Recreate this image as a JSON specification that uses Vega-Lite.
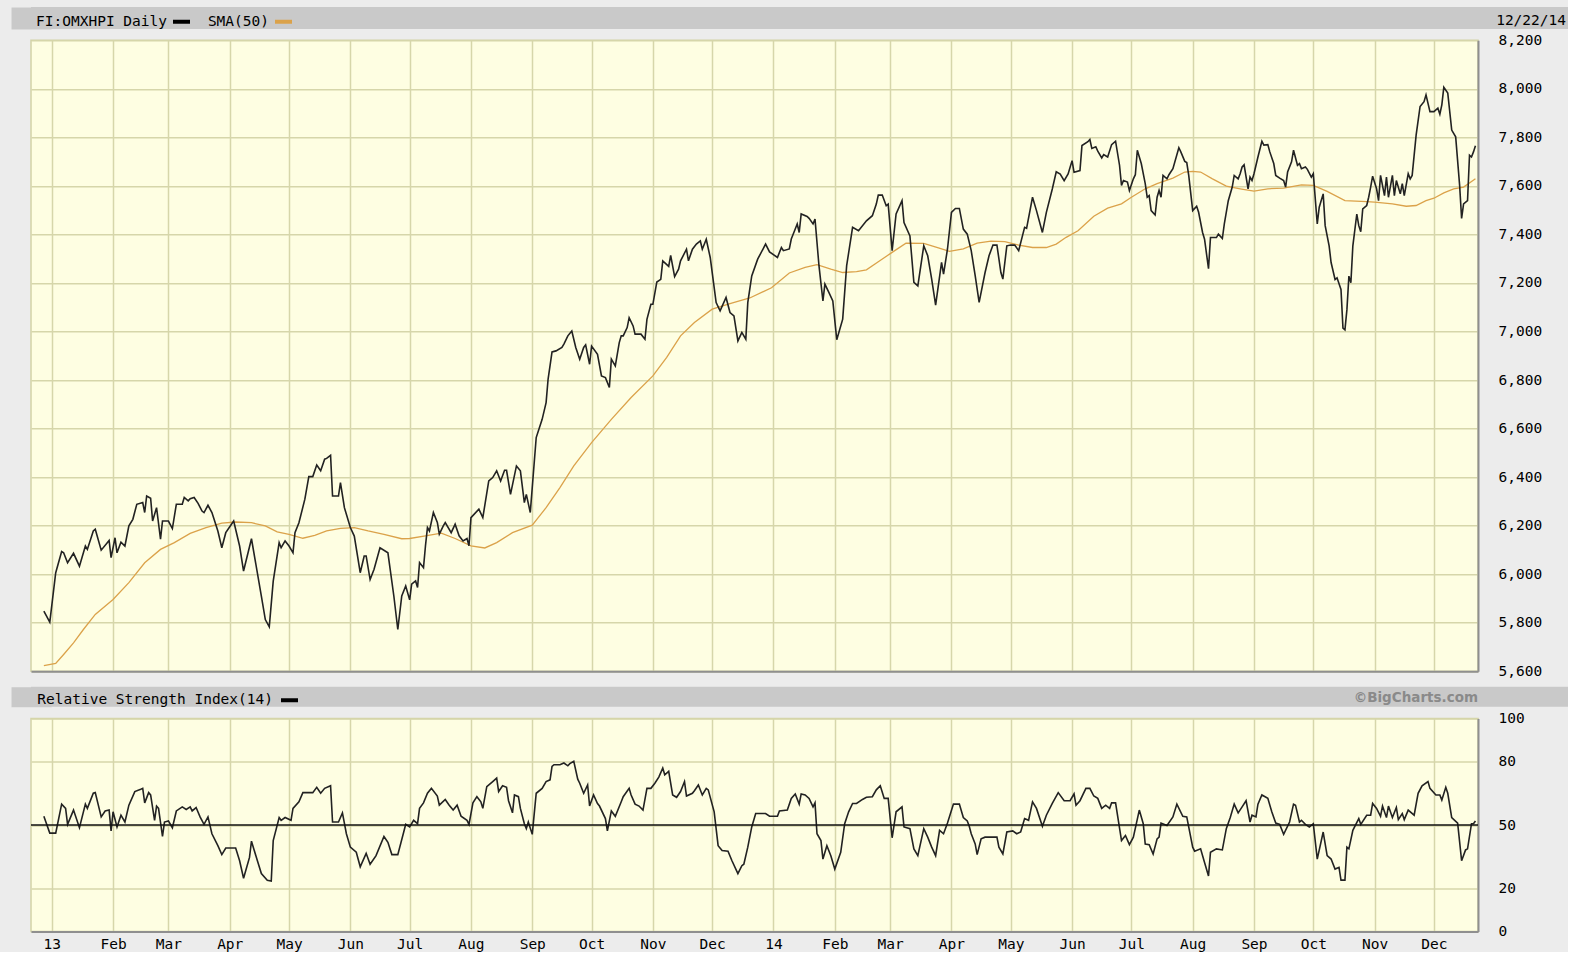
{
"$schema": "https://vega.github.io/schema/vega-lite/v6.json",
"background": "#ececec",
"padding": {"left": 10, "top": 7, "right": 0, "bottom": 0},
"config": {
  "font": "DejaVu Sans Mono",
  "view": {"fill": "#fefee2", "stroke": "#d2d2a6", "strokeWidth": 1.5},
  "axis": {"labelFont": "DejaVu Sans Mono", "labelFontSize": 14.5, "labelColor": "#000000"}
},
"datasets": {
"price": [
{"date":"2012-12-28","close":5848},{"date":"2012-12-31","close":5802},{"date":"2013-01-03","close":6006},{"date":"2013-01-06","close":6093},{"date":"2013-01-07","close":6088},{"date":"2013-01-09","close":6047},{"date":"2013-01-12","close":6086},{"date":"2013-01-15","close":6033},{"date":"2013-01-18","close":6116},{"date":"2013-01-19","close":6102},{"date":"2013-01-22","close":6178},{"date":"2013-01-23","close":6185},{"date":"2013-01-26","close":6099},{"date":"2013-01-30","close":6139},{"date":"2013-01-31","close":6068},
{"date":"2013-02-02","close":6150},{"date":"2013-02-03","close":6088},{"date":"2013-02-05","close":6132},{"date":"2013-02-07","close":6116},{"date":"2013-02-09","close":6199},{"date":"2013-02-11","close":6226},{"date":"2013-02-13","close":6288},{"date":"2013-02-16","close":6295},{"date":"2013-02-17","close":6254},{"date":"2013-02-18","close":6322},{"date":"2013-02-20","close":6313},{"date":"2013-02-21","close":6219},{"date":"2013-02-23","close":6274},{"date":"2013-02-25","close":6144},{"date":"2013-02-26","close":6219},
{"date":"2013-03-01","close":6219},{"date":"2013-03-03","close":6188},{"date":"2013-03-05","close":6288},{"date":"2013-03-08","close":6288},{"date":"2013-03-09","close":6316},{"date":"2013-03-11","close":6302},{"date":"2013-03-12","close":6311},{"date":"2013-03-14","close":6316},{"date":"2013-03-16","close":6292},{"date":"2013-03-18","close":6260},{"date":"2013-03-19","close":6254},{"date":"2013-03-21","close":6284},{"date":"2013-03-23","close":6254},{"date":"2013-03-26","close":6178},{"date":"2013-03-28","close":6109},{"date":"2013-03-30","close":6171},
{"date":"2013-04-03","close":6219},{"date":"2013-04-06","close":6116},{"date":"2013-04-08","close":6013},{"date":"2013-04-12","close":6146},{"date":"2013-04-17","close":5910},{"date":"2013-04-19","close":5813},{"date":"2013-04-21","close":5783},{"date":"2013-04-23","close":5971},{"date":"2013-04-26","close":6130},{"date":"2013-04-27","close":6109},{"date":"2013-04-29","close":6137},
{"date":"2013-05-01","close":6116},{"date":"2013-05-03","close":6088},{"date":"2013-05-04","close":6171},{"date":"2013-05-06","close":6212},{"date":"2013-05-09","close":6309},{"date":"2013-05-11","close":6402},{"date":"2013-05-13","close":6402},{"date":"2013-05-15","close":6450},{"date":"2013-05-17","close":6426},{"date":"2013-05-19","close":6474},{"date":"2013-05-20","close":6477},{"date":"2013-05-22","close":6490},{"date":"2013-05-23","close":6322},{"date":"2013-05-26","close":6322},{"date":"2013-05-27","close":6377},{"date":"2013-05-29","close":6274},
{"date":"2013-06-01","close":6192},{"date":"2013-06-03","close":6157},{"date":"2013-06-06","close":6006},{"date":"2013-06-08","close":6075},{"date":"2013-06-09","close":6075},{"date":"2013-06-11","close":5978},{"date":"2013-06-13","close":6020},{"date":"2013-06-16","close":6109},{"date":"2013-06-20","close":6088},{"date":"2013-06-23","close":5910},{"date":"2013-06-25","close":5772},{"date":"2013-06-27","close":5910},{"date":"2013-06-29","close":5951},
{"date":"2013-07-01","close":5894},{"date":"2013-07-02","close":5959},{"date":"2013-07-04","close":5972},{"date":"2013-07-05","close":5945},{"date":"2013-07-06","close":6048},{"date":"2013-07-08","close":6027},{"date":"2013-07-09","close":6117},{"date":"2013-07-10","close":6192},{"date":"2013-07-11","close":6178},{"date":"2013-07-13","close":6254},{"date":"2013-07-15","close":6213},{"date":"2013-07-16","close":6165},{"date":"2013-07-18","close":6199},{"date":"2013-07-19","close":6213},{"date":"2013-07-22","close":6171},{"date":"2013-07-24","close":6206},{"date":"2013-07-26","close":6158},{"date":"2013-07-28","close":6137},{"date":"2013-07-30","close":6147},{"date":"2013-07-31","close":6117},
{"date":"2013-08-01","close":6233},{"date":"2013-08-05","close":6268},{"date":"2013-08-07","close":6233},{"date":"2013-08-10","close":6384},{"date":"2013-08-12","close":6398},{"date":"2013-08-14","close":6426},{"date":"2013-08-16","close":6384},{"date":"2013-08-18","close":6428},{"date":"2013-08-19","close":6428},{"date":"2013-08-21","close":6329},{"date":"2013-08-24","close":6446},{"date":"2013-08-26","close":6426},{"date":"2013-08-28","close":6295},{"date":"2013-08-29","close":6329},{"date":"2013-08-31","close":6254},
{"date":"2013-09-03","close":6563},{"date":"2013-09-06","close":6638},{"date":"2013-09-08","close":6707},{"date":"2013-09-09","close":6803},{"date":"2013-09-11","close":6916},{"date":"2013-09-13","close":6920},{"date":"2013-09-16","close":6934},{"date":"2013-09-17","close":6948},{"date":"2013-09-19","close":6982},{"date":"2013-09-21","close":7002},{"date":"2013-09-23","close":6934},{"date":"2013-09-25","close":6886},{"date":"2013-09-27","close":6934},{"date":"2013-09-28","close":6945},{"date":"2013-09-30","close":6865},
{"date":"2013-10-01","close":6940},{"date":"2013-10-04","close":6906},{"date":"2013-10-06","close":6817},{"date":"2013-10-08","close":6810},{"date":"2013-10-10","close":6769},{"date":"2013-10-11","close":6886},{"date":"2013-10-13","close":6858},{"date":"2013-10-15","close":6954},{"date":"2013-10-16","close":6982},{"date":"2013-10-17","close":6982},{"date":"2013-10-19","close":7016},{"date":"2013-10-20","close":7057},{"date":"2013-10-22","close":7023},{"date":"2013-10-23","close":6989},{"date":"2013-10-26","close":6989},{"date":"2013-10-28","close":6968},{"date":"2013-10-29","close":7050},{"date":"2013-10-31","close":7112},
{"date":"2013-11-01","close":7112},{"date":"2013-11-03","close":7204},{"date":"2013-11-05","close":7215},{"date":"2013-11-06","close":7291},{"date":"2013-11-09","close":7268},{"date":"2013-11-10","close":7314},{"date":"2013-11-12","close":7226},{"date":"2013-11-14","close":7257},{"date":"2013-11-15","close":7291},{"date":"2013-11-18","close":7339},{"date":"2013-11-19","close":7291},{"date":"2013-11-21","close":7339},{"date":"2013-11-23","close":7360},{"date":"2013-11-25","close":7373},{"date":"2013-11-26","close":7339},{"date":"2013-11-28","close":7380},{"date":"2013-11-30","close":7305},
{"date":"2013-12-03","close":7119},{"date":"2013-12-05","close":7085},{"date":"2013-12-08","close":7140},{"date":"2013-12-10","close":7078},{"date":"2013-12-12","close":7064},{"date":"2013-12-14","close":6961},{"date":"2013-12-16","close":6996},{"date":"2013-12-18","close":6968},{"date":"2013-12-19","close":7119},{"date":"2013-12-21","close":7229},{"date":"2013-12-24","close":7298},{"date":"2013-12-28","close":7360},{"date":"2013-12-30","close":7328},
{"date":"2014-01-03","close":7305},{"date":"2014-01-05","close":7346},{"date":"2014-01-06","close":7333},{"date":"2014-01-09","close":7340},{"date":"2014-01-10","close":7381},{"date":"2014-01-12","close":7422},{"date":"2014-01-13","close":7443},{"date":"2014-01-14","close":7408},{"date":"2014-01-15","close":7484},{"date":"2014-01-18","close":7474},{"date":"2014-01-19","close":7466},{"date":"2014-01-21","close":7443},{"date":"2014-01-22","close":7463},{"date":"2014-01-24","close":7271},{"date":"2014-01-26","close":7126},{"date":"2014-01-27","close":7195},{"date":"2014-01-29","close":7161},{"date":"2014-01-31","close":7126},
{"date":"2014-02-02","close":6966},{"date":"2014-02-05","close":7051},{"date":"2014-02-07","close":7271},{"date":"2014-02-10","close":7429},{"date":"2014-02-13","close":7415},{"date":"2014-02-17","close":7456},{"date":"2014-02-20","close":7477},{"date":"2014-02-22","close":7525},{"date":"2014-02-23","close":7562},{"date":"2014-02-25","close":7562},{"date":"2014-02-27","close":7518},{"date":"2014-02-28","close":7525},
{"date":"2014-03-02","close":7333},{"date":"2014-03-04","close":7484},{"date":"2014-03-07","close":7539},{"date":"2014-03-08","close":7449},{"date":"2014-03-11","close":7394},{"date":"2014-03-13","close":7202},{"date":"2014-03-15","close":7188},{"date":"2014-03-18","close":7353},{"date":"2014-03-20","close":7312},{"date":"2014-03-22","close":7216},{"date":"2014-03-24","close":7109},{"date":"2014-03-27","close":7285},{"date":"2014-03-28","close":7236},{"date":"2014-03-30","close":7340},
{"date":"2014-04-01","close":7491},{"date":"2014-04-03","close":7507},{"date":"2014-04-05","close":7507},{"date":"2014-04-07","close":7422},{"date":"2014-04-09","close":7401},{"date":"2014-04-11","close":7333},{"date":"2014-04-13","close":7230},{"date":"2014-04-15","close":7120},{"date":"2014-04-18","close":7243},{"date":"2014-04-20","close":7312},{"date":"2014-04-22","close":7356},{"date":"2014-04-24","close":7356},{"date":"2014-04-26","close":7243},{"date":"2014-04-27","close":7216},{"date":"2014-04-29","close":7353},
{"date":"2014-05-01","close":7356},{"date":"2014-05-03","close":7356},{"date":"2014-05-05","close":7333},{"date":"2014-05-08","close":7429},{"date":"2014-05-09","close":7425},{"date":"2014-05-12","close":7553},{"date":"2014-05-14","close":7498},{"date":"2014-05-17","close":7408},{"date":"2014-05-19","close":7491},{"date":"2014-05-22","close":7587},{"date":"2014-05-24","close":7658},{"date":"2014-05-26","close":7649},{"date":"2014-05-28","close":7621},{"date":"2014-05-30","close":7649},
{"date":"2014-06-01","close":7704},{"date":"2014-06-02","close":7656},{"date":"2014-06-05","close":7663},{"date":"2014-06-06","close":7766},{"date":"2014-06-09","close":7782},{"date":"2014-06-10","close":7791},{"date":"2014-06-11","close":7754},{"date":"2014-06-13","close":7761},{"date":"2014-06-14","close":7743},{"date":"2014-06-16","close":7715},{"date":"2014-06-17","close":7729},{"date":"2014-06-19","close":7719},{"date":"2014-06-21","close":7770},{"date":"2014-06-23","close":7784},{"date":"2014-06-25","close":7685},{"date":"2014-06-26","close":7602},{"date":"2014-06-27","close":7622},{"date":"2014-06-29","close":7616},{"date":"2014-06-30","close":7581},
{"date":"2014-07-02","close":7629},{"date":"2014-07-03","close":7646},{"date":"2014-07-04","close":7747},{"date":"2014-07-06","close":7692},{"date":"2014-07-08","close":7609},{"date":"2014-07-09","close":7553},{"date":"2014-07-10","close":7560},{"date":"2014-07-11","close":7498},{"date":"2014-07-13","close":7480},{"date":"2014-07-14","close":7553},{"date":"2014-07-15","close":7581},{"date":"2014-07-16","close":7553},{"date":"2014-07-17","close":7643},{"date":"2014-07-19","close":7629},{"date":"2014-07-20","close":7646},{"date":"2014-07-22","close":7671},{"date":"2014-07-25","close":7757},{"date":"2014-07-26","close":7740},{"date":"2014-07-28","close":7701},{"date":"2014-07-29","close":7696},{"date":"2014-07-30","close":7643},
{"date":"2014-08-01","close":7498},{"date":"2014-08-03","close":7516},{"date":"2014-08-04","close":7491},{"date":"2014-08-06","close":7408},{"date":"2014-08-07","close":7380},{"date":"2014-08-09","close":7259},{"date":"2014-08-10","close":7387},{"date":"2014-08-13","close":7387},{"date":"2014-08-14","close":7401},{"date":"2014-08-16","close":7383},{"date":"2014-08-17","close":7443},{"date":"2014-08-19","close":7539},{"date":"2014-08-21","close":7595},{"date":"2014-08-22","close":7643},{"date":"2014-08-24","close":7629},{"date":"2014-08-25","close":7650},{"date":"2014-08-26","close":7678},{"date":"2014-08-27","close":7687},{"date":"2014-08-29","close":7588},{"date":"2014-08-30","close":7636},{"date":"2014-08-31","close":7622},
{"date":"2014-09-01","close":7650},{"date":"2014-09-03","close":7719},{"date":"2014-09-05","close":7784},{"date":"2014-09-06","close":7768},{"date":"2014-09-08","close":7770},{"date":"2014-09-09","close":7740},{"date":"2014-09-11","close":7692},{"date":"2014-09-12","close":7643},{"date":"2014-09-14","close":7632},{"date":"2014-09-16","close":7622},{"date":"2014-09-17","close":7595},{"date":"2014-09-18","close":7657},{"date":"2014-09-20","close":7699},{"date":"2014-09-21","close":7747},{"date":"2014-09-23","close":7685},{"date":"2014-09-24","close":7692},{"date":"2014-09-25","close":7671},{"date":"2014-09-27","close":7678},{"date":"2014-09-28","close":7668},{"date":"2014-09-30","close":7636},
{"date":"2014-10-01","close":7650},{"date":"2014-10-03","close":7443},{"date":"2014-10-04","close":7512},{"date":"2014-10-06","close":7567},{"date":"2014-10-07","close":7436},{"date":"2014-10-09","close":7353},{"date":"2014-10-10","close":7284},{"date":"2014-10-12","close":7214},{"date":"2014-10-13","close":7221},{"date":"2014-10-15","close":7173},{"date":"2014-10-16","close":7014},{"date":"2014-10-17","close":7007},{"date":"2014-10-18","close":7090},{"date":"2014-10-19","close":7228},{"date":"2014-10-20","close":7201},{"date":"2014-10-21","close":7353},{"date":"2014-10-23","close":7484},{"date":"2014-10-24","close":7436},{"date":"2014-10-25","close":7411},{"date":"2014-10-26","close":7505},{"date":"2014-10-28","close":7519},{"date":"2014-10-29","close":7553},{"date":"2014-10-30","close":7595},{"date":"2014-10-31","close":7640},
{"date":"2014-11-02","close":7588},{"date":"2014-11-03","close":7539},{"date":"2014-11-04","close":7643},{"date":"2014-11-06","close":7560},{"date":"2014-11-07","close":7636},{"date":"2014-11-08","close":7553},{"date":"2014-11-10","close":7643},{"date":"2014-11-11","close":7560},{"date":"2014-11-12","close":7622},{"date":"2014-11-14","close":7567},{"date":"2014-11-15","close":7609},{"date":"2014-11-16","close":7560},{"date":"2014-11-18","close":7650},{"date":"2014-11-19","close":7629},{"date":"2014-11-20","close":7643},{"date":"2014-11-22","close":7809},{"date":"2014-11-24","close":7927},{"date":"2014-11-26","close":7947},{"date":"2014-11-27","close":7975},{"date":"2014-11-29","close":7906},
{"date":"2014-12-01","close":7906},{"date":"2014-12-03","close":7920},{"date":"2014-12-04","close":7895},{"date":"2014-12-05","close":7934},{"date":"2014-12-06","close":8006},{"date":"2014-12-08","close":7982},{"date":"2014-12-10","close":7830},{"date":"2014-12-12","close":7802},{"date":"2014-12-14","close":7602},{"date":"2014-12-15","close":7466},{"date":"2014-12-16","close":7526},{"date":"2014-12-18","close":7539},{"date":"2014-12-19","close":7726},{"date":"2014-12-20","close":7719},{"date":"2014-12-21","close":7740},{"date":"2014-12-22","close":7765}
],
"sma": [
{"date":"2012-12-28","sma":5623},{"date":"2013-01-03","sma":5632},{"date":"2013-01-07","sma":5669},{"date":"2013-01-12","sma":5717},{"date":"2013-01-17","sma":5772},{"date":"2013-01-23","sma":5834},{"date":"2013-02-01","sma":5896},{"date":"2013-02-09","sma":5965},{"date":"2013-02-17","sma":6047},{"date":"2013-02-25","sma":6102},{"date":"2013-03-04","sma":6130},{"date":"2013-03-12","sma":6168},{"date":"2013-03-20","sma":6192},{"date":"2013-03-28","sma":6210},{"date":"2013-04-04","sma":6215},{"date":"2013-04-12","sma":6212},{"date":"2013-04-19","sma":6199},{"date":"2013-04-25","sma":6174},{"date":"2013-05-01","sma":6164},{"date":"2013-05-08","sma":6148},{"date":"2013-05-14","sma":6160},{"date":"2013-05-20","sma":6178},{"date":"2013-05-27","sma":6189},{"date":"2013-06-03","sma":6192},{"date":"2013-06-10","sma":6178},{"date":"2013-06-18","sma":6164},{"date":"2013-06-27","sma":6146},{"date":"2013-07-01","sma":6147},{"date":"2013-07-09","sma":6158},{"date":"2013-07-17","sma":6169},{"date":"2013-07-24","sma":6147},{"date":"2013-08-01","sma":6117},{"date":"2013-08-08","sma":6108},{"date":"2013-08-14","sma":6130},{"date":"2013-08-22","sma":6171},{"date":"2013-09-01","sma":6202},{"date":"2013-09-08","sma":6274},{"date":"2013-09-15","sma":6357},{"date":"2013-09-22","sma":6446},{"date":"2013-10-01","sma":6542},{"date":"2013-10-11","sma":6638},{"date":"2013-10-21","sma":6728},{"date":"2013-11-01","sma":6817},{"date":"2013-11-08","sma":6893},{"date":"2013-11-15","sma":6982},{"date":"2013-11-22","sma":7037},{"date":"2013-12-01","sma":7092},{"date":"2013-12-10","sma":7115},{"date":"2013-12-20","sma":7138},{"date":"2013-12-31","sma":7180},{"date":"2014-01-09","sma":7241},{"date":"2014-01-17","sma":7264},{"date":"2014-01-23","sma":7275},{"date":"2014-01-30","sma":7257},{"date":"2014-02-05","sma":7243},{"date":"2014-02-12","sma":7247},{"date":"2014-02-17","sma":7254},{"date":"2014-02-23","sma":7287},{"date":"2014-03-02","sma":7326},{"date":"2014-03-09","sma":7364},{"date":"2014-03-18","sma":7363},{"date":"2014-03-25","sma":7346},{"date":"2014-03-31","sma":7330},{"date":"2014-04-07","sma":7340},{"date":"2014-04-14","sma":7364},{"date":"2014-04-21","sma":7372},{"date":"2014-04-28","sma":7370},{"date":"2014-05-05","sma":7356},{"date":"2014-05-12","sma":7346},{"date":"2014-05-19","sma":7346},{"date":"2014-05-24","sma":7360},{"date":"2014-05-29","sma":7388},{"date":"2014-06-04","sma":7415},{"date":"2014-06-12","sma":7475},{"date":"2014-06-19","sma":7508},{"date":"2014-06-26","sma":7526},{"date":"2014-07-01","sma":7553},{"date":"2014-07-08","sma":7588},{"date":"2014-07-14","sma":7609},{"date":"2014-07-22","sma":7632},{"date":"2014-07-28","sma":7657},{"date":"2014-08-01","sma":7660},{"date":"2014-08-05","sma":7657},{"date":"2014-08-11","sma":7629},{"date":"2014-08-18","sma":7599},{"date":"2014-08-25","sma":7588},{"date":"2014-09-01","sma":7578},{"date":"2014-09-08","sma":7588},{"date":"2014-09-16","sma":7591},{"date":"2014-09-25","sma":7604},{"date":"2014-10-01","sma":7602},{"date":"2014-10-08","sma":7577},{"date":"2014-10-17","sma":7539},{"date":"2014-10-28","sma":7535},{"date":"2014-11-01","sma":7533},{"date":"2014-11-10","sma":7526},{"date":"2014-11-17","sma":7516},{"date":"2014-11-22","sma":7519},{"date":"2014-11-27","sma":7539},{"date":"2014-12-01","sma":7549},{"date":"2014-12-06","sma":7571},{"date":"2014-12-11","sma":7588},{"date":"2014-12-16","sma":7595},{"date":"2014-12-22","sma":7629}
],
"rsi": [
{"date":"2012-12-28","rsi":54.1},{"date":"2012-12-31","rsi":46.2},{"date":"2013-01-03","rsi":46.2},{"date":"2013-01-06","rsi":59.8},{"date":"2013-01-08","rsi":57.8},{"date":"2013-01-09","rsi":50.3},{"date":"2013-01-12","rsi":57.0},{"date":"2013-01-15","rsi":48.7},{"date":"2013-01-18","rsi":59.8},{"date":"2013-01-19","rsi":57.8},{"date":"2013-01-22","rsi":64.9},{"date":"2013-01-23","rsi":65.2},{"date":"2013-01-26","rsi":53.8},{"date":"2013-01-28","rsi":56.6},{"date":"2013-01-30","rsi":57.0},{"date":"2013-01-31","rsi":47.2},
{"date":"2013-02-01","rsi":56.2},{"date":"2013-02-03","rsi":49.1},{"date":"2013-02-05","rsi":54.6},{"date":"2013-02-07","rsi":51.4},{"date":"2013-02-09","rsi":59.3},{"date":"2013-02-12","rsi":65.7},{"date":"2013-02-15","rsi":66.8},{"date":"2013-02-16","rsi":67.2},{"date":"2013-02-17","rsi":60.4},{"date":"2013-02-19","rsi":65.2},{"date":"2013-02-20","rsi":64.1},{"date":"2013-02-22","rsi":52.2},{"date":"2013-02-23","rsi":58.9},{"date":"2013-02-24","rsi":57.8},{"date":"2013-02-26","rsi":44.6},{"date":"2013-02-27","rsi":51.4},
{"date":"2013-03-01","rsi":51.9},{"date":"2013-03-03","rsi":48.7},{"date":"2013-03-05","rsi":56.6},{"date":"2013-03-08","rsi":58.5},{"date":"2013-03-10","rsi":57.3},{"date":"2013-03-12","rsi":58.5},{"date":"2013-03-13","rsi":56.6},{"date":"2013-03-15","rsi":58.2},{"date":"2013-03-17","rsi":53.8},{"date":"2013-03-19","rsi":50.3},{"date":"2013-03-21","rsi":53.8},{"date":"2013-03-23","rsi":45.9},{"date":"2013-03-26","rsi":40.3},{"date":"2013-03-28","rsi":36.1},{"date":"2013-03-30","rsi":39.2},
{"date":"2013-04-04","rsi":39.2},{"date":"2013-04-06","rsi":33.2},{"date":"2013-04-08","rsi":25.0},{"date":"2013-04-11","rsi":34.8},{"date":"2013-04-12","rsi":42.4},{"date":"2013-04-15","rsi":33.2},{"date":"2013-04-17","rsi":27.2},{"date":"2013-04-20","rsi":24.1},{"date":"2013-04-22","rsi":23.7},{"date":"2013-04-23","rsi":42.7},{"date":"2013-04-26","rsi":53.5},{"date":"2013-04-27","rsi":52.2},{"date":"2013-04-29","rsi":53.5},
{"date":"2013-05-02","rsi":52.2},{"date":"2013-05-03","rsi":57.8},{"date":"2013-05-06","rsi":60.9},{"date":"2013-05-08","rsi":65.2},{"date":"2013-05-13","rsi":65.2},{"date":"2013-05-15","rsi":67.7},{"date":"2013-05-17","rsi":64.9},{"date":"2013-05-19","rsi":67.2},{"date":"2013-05-22","rsi":68.4},{"date":"2013-05-23","rsi":51.4},{"date":"2013-05-26","rsi":51.4},{"date":"2013-05-28","rsi":55.7},{"date":"2013-05-30","rsi":45.9},
{"date":"2013-06-01","rsi":39.6},{"date":"2013-06-04","rsi":37.2},{"date":"2013-06-06","rsi":30.4},{"date":"2013-06-09","rsi":36.7},{"date":"2013-06-11","rsi":31.6},{"date":"2013-06-14","rsi":35.6},{"date":"2013-06-18","rsi":44.6},{"date":"2013-06-20","rsi":41.9},{"date":"2013-06-22","rsi":36.1},{"date":"2013-06-25","rsi":36.1},{"date":"2013-06-28","rsi":46.7},{"date":"2013-06-29","rsi":50.3},
{"date":"2013-07-01","rsi":49.1},{"date":"2013-07-03","rsi":52.2},{"date":"2013-07-05","rsi":50.6},{"date":"2013-07-06","rsi":57.8},{"date":"2013-07-08","rsi":60.4},{"date":"2013-07-10","rsi":64.9},{"date":"2013-07-12","rsi":67.2},{"date":"2013-07-15","rsi":63.6},{"date":"2013-07-16","rsi":59.3},{"date":"2013-07-19","rsi":62.0},{"date":"2013-07-21","rsi":59.3},{"date":"2013-07-23","rsi":57.0},{"date":"2013-07-25","rsi":59.3},{"date":"2013-07-27","rsi":54.1},{"date":"2013-07-30","rsi":52.2},{"date":"2013-07-31","rsi":50.3},
{"date":"2013-08-02","rsi":60.4},{"date":"2013-08-04","rsi":63.3},{"date":"2013-08-06","rsi":60.9},{"date":"2013-08-07","rsi":57.8},{"date":"2013-08-09","rsi":68.0},{"date":"2013-08-12","rsi":70.4},{"date":"2013-08-14","rsi":72.0},{"date":"2013-08-15","rsi":65.7},{"date":"2013-08-17","rsi":68.4},{"date":"2013-08-19","rsi":67.7},{"date":"2013-08-20","rsi":61.4},{"date":"2013-08-22","rsi":55.7},{"date":"2013-08-23","rsi":64.1},{"date":"2013-08-25","rsi":63.3},{"date":"2013-08-26","rsi":57.8},{"date":"2013-08-28","rsi":50.6},{"date":"2013-08-29","rsi":48.3},{"date":"2013-08-30","rsi":51.4},
{"date":"2013-09-01","rsi":45.6},{"date":"2013-09-03","rsi":64.9},{"date":"2013-09-06","rsi":67.2},{"date":"2013-09-08","rsi":70.4},{"date":"2013-09-10","rsi":71.2},{"date":"2013-09-11","rsi":77.5},{"date":"2013-09-12","rsi":78.3},{"date":"2013-09-15","rsi":78.3},{"date":"2013-09-17","rsi":79.1},{"date":"2013-09-19","rsi":77.8},{"date":"2013-09-20","rsi":78.8},{"date":"2013-09-22","rsi":79.9},{"date":"2013-09-24","rsi":71.5},{"date":"2013-09-25","rsi":69.6},{"date":"2013-09-27","rsi":64.9},{"date":"2013-09-29","rsi":68.8},{"date":"2013-09-30","rsi":58.9},
{"date":"2013-10-02","rsi":64.1},{"date":"2013-10-04","rsi":60.1},{"date":"2013-10-05","rsi":58.9},{"date":"2013-10-08","rsi":53.0},{"date":"2013-10-09","rsi":47.2},{"date":"2013-10-11","rsi":56.6},{"date":"2013-10-13","rsi":54.1},{"date":"2013-10-16","rsi":60.9},{"date":"2013-10-17","rsi":63.3},{"date":"2013-10-20","rsi":67.2},{"date":"2013-10-21","rsi":64.1},{"date":"2013-10-23","rsi":59.8},{"date":"2013-10-25","rsi":58.9},{"date":"2013-10-27","rsi":57.0},{"date":"2013-10-29","rsi":67.2},{"date":"2013-10-31","rsi":67.2},
{"date":"2013-11-02","rsi":69.6},{"date":"2013-11-04","rsi":72.5},{"date":"2013-11-06","rsi":76.7},{"date":"2013-11-07","rsi":73.6},{"date":"2013-11-09","rsi":75.2},{"date":"2013-11-11","rsi":64.1},{"date":"2013-11-13","rsi":63.0},{"date":"2013-11-15","rsi":65.7},{"date":"2013-11-17","rsi":70.4},{"date":"2013-11-18","rsi":63.6},{"date":"2013-11-21","rsi":64.9},{"date":"2013-11-22","rsi":66.1},{"date":"2013-11-24","rsi":68.8},{"date":"2013-11-26","rsi":64.1},{"date":"2013-11-28","rsi":67.2},{"date":"2013-11-29","rsi":66.5},
{"date":"2013-12-02","rsi":56.2},{"date":"2013-12-04","rsi":40.3},{"date":"2013-12-06","rsi":38.0},{"date":"2013-12-09","rsi":37.7},{"date":"2013-12-11","rsi":33.2},{"date":"2013-12-14","rsi":27.2},{"date":"2013-12-16","rsi":30.9},{"date":"2013-12-17","rsi":31.6},{"date":"2013-12-19","rsi":39.6},{"date":"2013-12-21","rsi":49.1},{"date":"2013-12-23","rsi":55.4},{"date":"2013-12-28","rsi":55.4},{"date":"2013-12-30","rsi":54.1},
{"date":"2014-01-03","rsi":54.1},{"date":"2014-01-04","rsi":56.6},{"date":"2014-01-08","rsi":57.0},{"date":"2014-01-10","rsi":62.5},{"date":"2014-01-12","rsi":64.6},{"date":"2014-01-14","rsi":59.8},{"date":"2014-01-15","rsi":64.6},{"date":"2014-01-17","rsi":64.1},{"date":"2014-01-19","rsi":62.5},{"date":"2014-01-21","rsi":58.5},{"date":"2014-01-22","rsi":60.4},{"date":"2014-01-23","rsi":45.9},{"date":"2014-01-25","rsi":42.7},{"date":"2014-01-26","rsi":34.0},{"date":"2014-01-28","rsi":40.3},{"date":"2014-01-30","rsi":35.6},
{"date":"2014-02-01","rsi":29.3},{"date":"2014-02-04","rsi":37.2},{"date":"2014-02-06","rsi":50.6},{"date":"2014-02-08","rsi":56.2},{"date":"2014-02-10","rsi":60.1},{"date":"2014-02-12","rsi":60.1},{"date":"2014-02-15","rsi":62.0},{"date":"2014-02-17","rsi":63.0},{"date":"2014-02-20","rsi":63.3},{"date":"2014-02-22","rsi":66.5},{"date":"2014-02-24","rsi":68.4},{"date":"2014-02-26","rsi":62.5},{"date":"2014-02-28","rsi":62.5},
{"date":"2014-03-02","rsi":44.0},{"date":"2014-03-04","rsi":56.2},{"date":"2014-03-07","rsi":58.5},{"date":"2014-03-08","rsi":49.1},{"date":"2014-03-11","rsi":48.3},{"date":"2014-03-13","rsi":38.8},{"date":"2014-03-15","rsi":35.6},{"date":"2014-03-18","rsi":48.3},{"date":"2014-03-20","rsi":44.3},{"date":"2014-03-22","rsi":39.6},{"date":"2014-03-24","rsi":35.6},{"date":"2014-03-26","rsi":47.5},{"date":"2014-03-28","rsi":45.9},{"date":"2014-03-30","rsi":50.9},
{"date":"2014-04-02","rsi":59.8},{"date":"2014-04-05","rsi":59.8},{"date":"2014-04-07","rsi":53.5},{"date":"2014-04-09","rsi":51.9},{"date":"2014-04-10","rsi":49.4},{"date":"2014-04-11","rsi":45.9},{"date":"2014-04-13","rsi":41.1},{"date":"2014-04-14","rsi":36.1},{"date":"2014-04-16","rsi":43.5},{"date":"2014-04-18","rsi":44.3},{"date":"2014-04-24","rsi":44.3},{"date":"2014-04-25","rsi":39.6},{"date":"2014-04-27","rsi":36.4},{"date":"2014-04-29","rsi":46.7},
{"date":"2014-05-02","rsi":47.2},{"date":"2014-05-04","rsi":45.9},{"date":"2014-05-06","rsi":46.7},{"date":"2014-05-08","rsi":53.0},{"date":"2014-05-10","rsi":52.2},{"date":"2014-05-12","rsi":60.9},{"date":"2014-05-14","rsi":57.8},{"date":"2014-05-17","rsi":49.4},{"date":"2014-05-19","rsi":54.6},{"date":"2014-05-22","rsi":60.1},{"date":"2014-05-25","rsi":65.2},{"date":"2014-05-28","rsi":61.4},{"date":"2014-05-31","rsi":61.4},
{"date":"2014-06-02","rsi":64.6},{"date":"2014-06-03","rsi":59.3},{"date":"2014-06-05","rsi":61.4},{"date":"2014-06-08","rsi":67.2},{"date":"2014-06-10","rsi":67.2},{"date":"2014-06-12","rsi":63.6},{"date":"2014-06-14","rsi":62.5},{"date":"2014-06-16","rsi":57.8},{"date":"2014-06-18","rsi":59.3},{"date":"2014-06-20","rsi":57.8},{"date":"2014-06-21","rsi":60.4},{"date":"2014-06-23","rsi":60.4},{"date":"2014-06-26","rsi":42.7},{"date":"2014-06-28","rsi":45.1},{"date":"2014-06-30","rsi":40.8},
{"date":"2014-07-02","rsi":44.3},{"date":"2014-07-05","rsi":57.0},{"date":"2014-07-07","rsi":50.6},{"date":"2014-07-08","rsi":41.1},{"date":"2014-07-10","rsi":40.8},{"date":"2014-07-12","rsi":36.4},{"date":"2014-07-14","rsi":43.5},{"date":"2014-07-15","rsi":44.3},{"date":"2014-07-16","rsi":50.9},{"date":"2014-07-19","rsi":49.8},{"date":"2014-07-22","rsi":53.8},{"date":"2014-07-24","rsi":59.8},{"date":"2014-07-27","rsi":54.1},{"date":"2014-07-29","rsi":53.8},
{"date":"2014-08-01","rsi":39.6},{"date":"2014-08-02","rsi":37.7},{"date":"2014-08-05","rsi":38.8},{"date":"2014-08-07","rsi":32.4},{"date":"2014-08-09","rsi":26.1},{"date":"2014-08-10","rsi":37.2},{"date":"2014-08-13","rsi":38.8},{"date":"2014-08-16","rsi":38.3},{"date":"2014-08-18","rsi":48.3},{"date":"2014-08-20","rsi":53.5},{"date":"2014-08-22","rsi":59.8},{"date":"2014-08-24","rsi":55.7},{"date":"2014-08-26","rsi":58.5},{"date":"2014-08-28","rsi":61.4},{"date":"2014-08-30","rsi":51.4},{"date":"2014-08-31","rsi":54.6},
{"date":"2014-09-02","rsi":53.8},{"date":"2014-09-03","rsi":59.8},{"date":"2014-09-05","rsi":64.1},{"date":"2014-09-08","rsi":62.5},{"date":"2014-09-10","rsi":56.2},{"date":"2014-09-12","rsi":50.9},{"date":"2014-09-14","rsi":50.3},{"date":"2014-09-16","rsi":45.6},{"date":"2014-09-19","rsi":51.4},{"date":"2014-09-21","rsi":59.8},{"date":"2014-09-22","rsi":59.3},{"date":"2014-09-24","rsi":51.4},{"date":"2014-09-25","rsi":52.2},{"date":"2014-09-27","rsi":50.3},{"date":"2014-09-29","rsi":49.1},
{"date":"2014-10-01","rsi":50.6},{"date":"2014-10-03","rsi":34.0},{"date":"2014-10-06","rsi":46.7},{"date":"2014-10-08","rsi":35.6},{"date":"2014-10-10","rsi":34.0},{"date":"2014-10-12","rsi":29.3},{"date":"2014-10-14","rsi":30.1},{"date":"2014-10-15","rsi":24.1},{"date":"2014-10-17","rsi":24.1},{"date":"2014-10-18","rsi":39.6},{"date":"2014-10-19","rsi":38.8},{"date":"2014-10-21","rsi":47.5},{"date":"2014-10-24","rsi":53.0},{"date":"2014-10-25","rsi":50.3},{"date":"2014-10-28","rsi":54.6},{"date":"2014-10-30","rsi":54.6},{"date":"2014-10-31","rsi":60.1},
{"date":"2014-11-02","rsi":57.8},{"date":"2014-11-04","rsi":54.1},{"date":"2014-11-05","rsi":58.9},{"date":"2014-11-07","rsi":53.5},{"date":"2014-11-08","rsi":58.9},{"date":"2014-11-10","rsi":53.5},{"date":"2014-11-12","rsi":58.2},{"date":"2014-11-13","rsi":52.5},{"date":"2014-11-15","rsi":55.4},{"date":"2014-11-16","rsi":52.5},{"date":"2014-11-18","rsi":57.0},{"date":"2014-11-21","rsi":54.6},{"date":"2014-11-23","rsi":64.9},{"date":"2014-11-25","rsi":68.4},{"date":"2014-11-28","rsi":70.4},{"date":"2014-11-29","rsi":67.2},
{"date":"2014-12-02","rsi":64.1},{"date":"2014-12-04","rsi":64.1},{"date":"2014-12-05","rsi":61.7},{"date":"2014-12-07","rsi":67.7},{"date":"2014-12-08","rsi":64.9},{"date":"2014-12-10","rsi":53.5},{"date":"2014-12-13","rsi":50.9},{"date":"2014-12-15","rsi":33.2},{"date":"2014-12-17","rsi":38.3},{"date":"2014-12-18","rsi":38.8},{"date":"2014-12-20","rsi":50.6},{"date":"2014-12-21","rsi":50.6},{"date":"2014-12-22","rsi":51.9}
]
},
"columns": 1,
"align": "none",
"spacing": 7.75,
"resolve": {"scale": {"color": "independent"}, "legend": {"color": "independent"}},
"concat": [
 {
  "columns": 1,
  "align": "none",
  "spacing": -0.75,
  "resolve": {"scale": {"color": "independent"}, "legend": {"color": "independent"}},
  "concat": [
   {
    "width": 1537, "height": 22,
    "view": {"fill": "#c9c9c9", "stroke": null},
    "data": {"values": [{"series": "FI:OMXHPI Daily"}, {"series": "SMA(50)"}]},
    "mark": {"type": "point", "opacity": 0},
    "encoding": {
      "y": {"datum": 0, "type": "quantitative", "scale": {"domain": [0, 1]},
        "axis": {"orient": "left", "domain": true, "domainWidth": 40, "domainColor": "#c9c9c9", "domainCap": "butt",
          "labels": false, "ticks": false, "grid": false, "title": null}},
      "color": {"field": "series", "type": "nominal",
        "scale": {"domain": ["FI:OMXHPI Daily", "SMA(50)"], "range": ["#000000", "#dba24a"]},
        "legend": {"orient": "none", "legendX": 140, "legendY": 4, "direction": "horizontal", "title": null,
          "symbolType": "stroke", "symbolStrokeWidth": 4, "symbolSize": 289, "symbolOpacity": 1,
          "labelFont": "DejaVu Sans Mono", "labelFontSize": 14.5, "labelColor": "#000000", "labelLimit": 400,
          "labelAlign": "right", "labelOffset": -25, "columnPadding": 9, "padding": 0}
      }
    },
    "title": {"text": "12/22/14", "anchor": "end", "frame": "group", "orient": "top", "offset": -21, "dx": -2,
      "font": "DejaVu Sans Mono", "fontSize": 14.5, "fontWeight": "normal", "color": "#000000"}
   },
   {
    "width": 1447, "height": 631,
    "layer": [
     {
      "data": {"name": "sma"},
      "mark": {"type": "line", "color": "#dba24a", "strokeWidth": 1.3},
      "encoding": {
        "x": {"field": "date", "type": "temporal",
          "scale": {"type": "utc", "nice": false, "domain": [{"year": 2012, "month": 12, "date": 21, "hours": 12, "utc": true}, {"year": 2014, "month": 12, "date": 23, "hours": 7, "utc": true}]},
          "axis": {"orient": "bottom", "tickCount": {"interval": "month", "step": 1}, "grid": true, "gridColor": "#d6d6aa", "gridWidth": 1.5,
            "labels": false, "ticks": false, "tickSize": 0, "domain": true, "domainColor": "#8f8f8f", "domainWidth": 2, "title": null}},
        "y": {"field": "sma", "type": "quantitative", "scale": {"domain": [5600, 8200], "zero": false, "nice": false},
          "axis": {"orient": "left", "labels": false, "ticks": false, "domain": false, "grid": false, "title": null, "minExtent": 20, "maxExtent": 20}}
      }
     },
     {
      "data": {"name": "price"},
      "mark": {"type": "line", "color": "#222222", "strokeWidth": 1.6},
      "encoding": {
        "x": {"field": "date", "type": "temporal",
          "scale": {"type": "utc", "nice": false, "domain": [{"year": 2012, "month": 12, "date": 21, "hours": 12, "utc": true}, {"year": 2014, "month": 12, "date": 23, "hours": 7, "utc": true}]},
          "axis": {"orient": "bottom", "tickCount": {"interval": "month", "step": 1}, "grid": true, "gridColor": "#d6d6aa", "gridWidth": 1.5,
            "labels": false, "ticks": false, "tickSize": 0, "domain": true, "domainColor": "#8f8f8f", "domainWidth": 2, "title": null}},
        "y": {"field": "close", "type": "quantitative", "scale": {"domain": [5600, 8200], "zero": false, "nice": false},
          "axis": {"orient": "right", "values": [5600, 5800, 6000, 6200, 6400, 6600, 6800, 7000, 7200, 7400, 7600, 7800, 8000, 8200],
            "format": ",.0f", "grid": true, "gridColor": "#d6d6aa", "gridWidth": 1.5, "ticks": false, "tickSize": 0, "labelPadding": 20,
            "domain": true, "domainColor": "#8f8f8f", "domainWidth": 2, "title": null, "labelFlush": false, "labelOverlap": false}}
      }
     }
    ],
    "resolve": {"axis": {"y": "independent"}}
   }
  ]
 },
 {
  "columns": 1,
  "align": "none",
  "spacing": -0.25,
  "resolve": {"scale": {"color": "independent"}, "legend": {"color": "independent"}},
  "concat": [
   {
    "width": 1537, "height": 20,
    "view": {"fill": "#c9c9c9", "stroke": null},
    "data": {"values": [{"series": "Relative Strength Index(14)"}]},
    "mark": {"type": "point", "opacity": 0},
    "encoding": {
      "y": {"datum": 0, "type": "quantitative", "scale": {"domain": [0, 1]},
        "axis": {"orient": "left", "domain": true, "domainWidth": 40, "domainColor": "#c9c9c9", "domainCap": "butt",
          "labels": false, "ticks": false, "grid": false, "title": null}},
      "color": {"field": "series", "type": "nominal",
        "scale": {"domain": ["Relative Strength Index(14)"], "range": ["#000000"]},
        "legend": {"orient": "none", "legendX": 248, "legendY": 3, "direction": "horizontal", "title": null,
          "symbolType": "stroke", "symbolStrokeWidth": 4, "symbolSize": 289, "symbolOpacity": 1,
          "labelFont": "DejaVu Sans Mono", "labelFontSize": 14.5, "labelColor": "#000000", "labelLimit": 400,
          "labelAlign": "right", "labelOffset": -27, "padding": 0}
      }
    },
    "title": {"text": "©BigCharts.com", "anchor": "end", "frame": "group", "orient": "top", "offset": -18, "dx": -90,
      "font": "DejaVu Sans", "fontSize": 13.5, "fontWeight": "bold", "color": "#8a8a8a"}
   },
   {
    "width": 1447, "height": 213,
    "layer": [
     {
      "data": {"name": "rsi"},
      "mark": {"type": "line", "color": "#222222", "strokeWidth": 1.6},
      "encoding": {
        "x": {"field": "date", "type": "temporal",
          "scale": {"type": "utc", "nice": false, "domain": [{"year": 2012, "month": 12, "date": 21, "hours": 12, "utc": true}, {"year": 2014, "month": 12, "date": 23, "hours": 7, "utc": true}]},
          "axis": {"orient": "bottom", "tickCount": {"interval": "month", "step": 1}, "grid": true, "gridColor": "#d6d6aa", "gridWidth": 1.5,
            "labels": true, "labelExpr": "utcFormat(datum.value, '%m') == '01' ? utcFormat(datum.value, '%y') : utcFormat(datum.value, '%b')",
            "labelPadding": 5.7, "labelBaseline": "top", "labelFlush": false, "labelOverlap": false,
            "ticks": false, "tickSize": 0, "domain": true, "domainColor": "#8f8f8f", "domainWidth": 2, "title": null}},
        "y": {"field": "rsi", "type": "quantitative", "scale": {"domain": [0, 100], "nice": false},
          "axis": {"orient": "right", "values": [0, 20, 50, 80, 100], "grid": true, "gridColor": "#d6d6aa", "gridWidth": 1.5,
            "ticks": false, "tickSize": 0, "labelPadding": 20, "domain": true, "domainColor": "#8f8f8f", "domainWidth": 2,
            "title": null, "labelFlush": false, "labelOverlap": false}}
      }
     },
     {
      "data": {"values": [{"level": 50}]},
      "mark": {"type": "rule", "color": "#111111", "strokeWidth": 1.3},
      "encoding": {
        "y": {"field": "level", "type": "quantitative", "scale": {"domain": [0, 100], "nice": false},
          "axis": {"orient": "left", "labels": false, "ticks": false, "domain": false, "grid": false, "title": null, "minExtent": 20, "maxExtent": 20}}
      }
     }
    ],
    "resolve": {"axis": {"y": "independent"}}
   }
  ]
 }
]
}
